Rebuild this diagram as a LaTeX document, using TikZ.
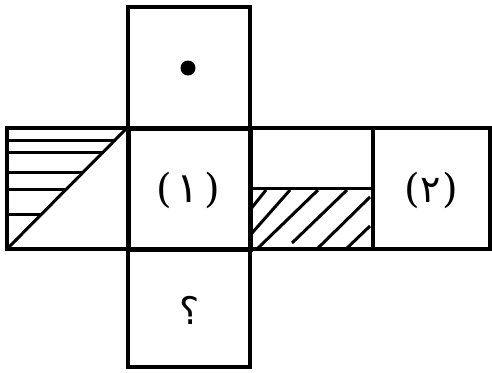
\documentclass[tikz,border=0pt]{standalone}
\usepackage{fontspec}
\newfontfamily\arabicfont[Script=Arabic]{DejaVu Sans}
\newfontfamily\parenfont{DejaVu Serif}
\TeXXeTstate=1
\newcommand{\lp}{{\parenfont\fontsize{40}{40}\selectfont(}}
\newcommand{\rp}{{\parenfont\fontsize{40}{40}\selectfont)}}
\begin{document}
\begin{tikzpicture}[x=1pt,y=-1pt,
  face/.style={draw=black,line width=3.4pt,line join=miter},
  midface/.style={draw=black,line width=5pt,line join=miter},
  hatch/.style={draw=black,line width=3pt},
  lbl/.style={inner sep=0pt,font=\arabicfont\fontsize{38}{38}\selectfont}]
\useasboundingbox (0,0) rectangle (492,372);
\fill[white] (0,0) rectangle (492,372);
% hatching in left face
\draw[hatch] (7,249) -- (127,128);
\foreach \yy in {140,152,172,189,214} {
  \pgfmathsetmacro{\xe}{256-\yy}
  \draw[hatch] (7,\yy) -- (\xe,\yy);
}
% hatching in third face
\draw[hatch] (250,188) -- (373,188);
\begin{scope}
\clip (250,188) rectangle (373,249);
\draw[hatch] (250,210) -- (266,190);
\draw[hatch] (252,233) -- (290,190);
\draw[hatch] (256,250) -- (318,190);
\draw[hatch] (292,243) -- (347,190);
\draw[hatch] (316,250) -- (370,197);
\draw[hatch] (345,250) -- (370,226);
\end{scope}
% faces
\draw[face] (128,7) rectangle (250,128);
\draw[face] (7,128) rectangle (128,249);
\draw[face] (250,128) rectangle (373,249);
\draw[face] (373,128) rectangle (490,249);
\draw[face] (128,249) rectangle (250,367);
\draw[midface] (128,128) rectangle (250,249);
% contents
\fill[black] (188,68) circle (7.5);
\node[lbl] (one) at (188,190) {\lp\hspace{5pt}{\fontsize{42}{42}\selectfont ١}\hspace{5pt}\rp};
\node[lbl] (two) at (431,190) {\lp\hspace{1pt}٢\hspace{1pt}\rp};
\node[lbl] (q) at (190,310) {؟};
\end{tikzpicture}
\end{document}
